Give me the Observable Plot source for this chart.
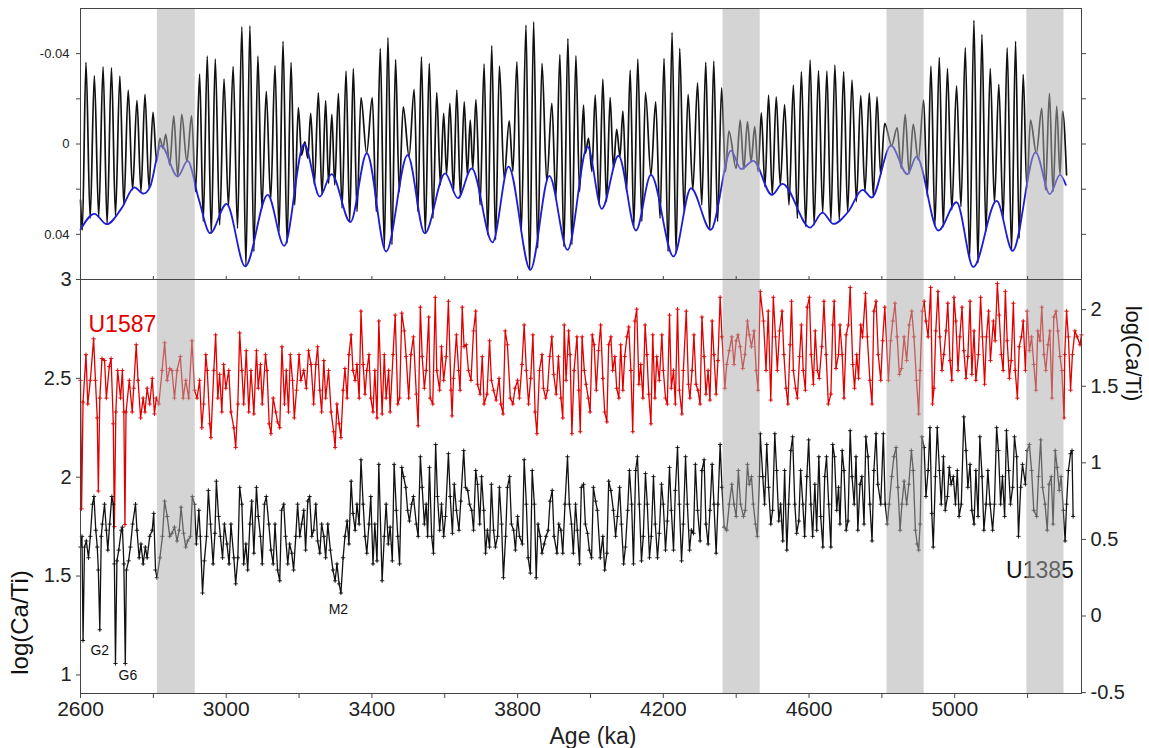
<!DOCTYPE html>
<html><head><meta charset="utf-8">
<script src="https://cdn.jsdelivr.net/npm/d3@7"></script>
<script src="https://cdn.jsdelivr.net/npm/@observablehq/plot@0.6"></script>
<style>
body{margin:0;background:#fff;}
#wrap{position:relative;width:1149px;height:748px;overflow:hidden;background:#fff;}
</style></head><body><div id="wrap"></div>
<script>
// ---------- data (age in ka) ----------
const bandStart = [2811, 4364, 4814, 5198];
const bandEnd   = [2915, 4466, 4916, 5300];
const xTickValues = [2600,2800,3000,3200,3400,3600,3800,4000,4200,4400,4600,4800,5000,5200];
const xTickLabels = [2600,3000,3400,3800,4200,4600,5000];
const topTicksLabeled = [-0.04, 0, 0.04];
const topTicksAll = [-0.04, -0.02, 0, 0.02, 0.04];
const leftTicks = [1, 1.5, 2, 2.5, 3];
const rightTicks = [-0.5, 0, 0.5, 1, 1.5, 2];
const labelText = ["U1587", "U1385"];
const labelAge = [2715, 5234];
const labelVal = [2.77, 1.53];
const labelColor = ["#e00000", "#111"];
const eventText = ["M2", "G2", "G6"];
const eventAge = [3308, 2653, 2730];
const eventVal = [1.33, 1.125, 0.996];

// precession (black) extrema: [age, value]
const precession = [[2600,0.0248],[2605,0.038],[2615,-0.0361],[2626.5,0.0329],[2638,-0.0302],[2650,0.0321],[2662,-0.0342],[2673,0.0355],[2685,-0.0337],[2696,0.0317],[2708,-0.0301],[2719,0.027],[2731,-0.0239],[2743,0.0203],[2755,-0.0193],[2766,0.0211],[2777,-0.022],[2788,0.0193],[2799,-0.014],[2809,0.0078],[2818,-0.0025],[2826,0.0019],[2834,-0.0043],[2845,0.0093],[2856,-0.0125],[2867,0.0144],[2878,-0.0131],[2892,0.0078],[2905,-0.0125],[2916,0.0211],[2927,-0.0309],[2937,0.0343],[2948,-0.0389],[2959,0.0395],[2970,-0.0376],[2982,0.0358],[2994,-0.0287],[3006,0.0277],[3019,-0.0343],[3031,0.0373],[3043,-0.0519],[3054,0.0542],[3065,-0.0523],[3076,0.0476],[3087,-0.0389],[3098,0.0284],[3110,-0.0233],[3122,0.0248],[3134,-0.0346],[3145,0.0388],[3156,-0.0455],[3167,0.0439],[3178,-0.0361],[3188,0.027],[3198,-0.0161],[3207,0.0049],[3216,-0.001],[3224,0.0063],[3232,-0.0136],[3242,0.0181],[3253,-0.0227],[3263,0.0225],[3273,-0.0192],[3281,0.0174],[3290,-0.0131],
[3298,0.0181],[3308,-0.0224],[3318,0.0284],[3329,-0.0323],[3339,0.0343],[3349,-0.0334],[3359,0.0299],[3370,-0.0205],[3385.5,0.0041],[3401,-0.0205],[3412,0.0299],[3423,-0.0423],[3434,0.0461],[3444,-0.0471],[3455,0.0446],[3465,-0.0374],[3475,0.0211],[3486,-0.0165],[3502,0.0056],[3516,-0.0242],[3526,0.0299],[3536,-0.0386],[3546.5,0.0396],[3557.5,-0.0357],[3567.5,0.0329],[3578,-0.0228],[3588,0.0181],[3597,-0.0136],[3605,0.0134],[3614,-0.018],[3624,0.0211],[3633,-0.0239],[3643,0.0233],[3653.5,-0.0187],[3662,0.0137],[3670,-0.0106],[3677,0.0111],[3685.5,-0.0197],[3697,0.027],[3708,-0.0354],[3718,0.0402],[3729,-0.0435],[3739.5,0.0424],[3750,-0.0345],[3763,0.0152],[3777,-0.0102],[3787,0.0122],[3798,-0.0364],[3810,0.0388],[3823,-0.0526],[3833,0.0557],[3844,-0.0541],[3855,0.0461],[3867,-0.0357],[3880,0.0166],[3894,-0.018],[3905,0.024],[3916,-0.0396],[3927,0.0454],[3938,-0.0467],[3949,0.0446],[3960,-0.039],[3970,0.0211],[3981,-0.0172],
[3986,0.0041],[3994.6,-0.0025],[4004,0.0122],[4013,-0.0217],[4024,0.027],[4034,-0.0287],[4044,0.0255],[4054,-0.0205],[4063,0.0108],[4072,-0.0065],[4081,0.0056],[4089,-0.0146],[4099,0.0211],[4109,-0.0327],[4119,0.0365],[4130,-0.0376],[4141,0.0343],[4151,-0.0228],[4166,0.0137],[4179,-0.0187],[4191,0.0329],[4202,-0.0379],[4213,0.0476],[4224,-0.0494],[4235,0.0483],[4245,-0.0423],[4257,0.0299],[4268,-0.022],[4281,0.0203],[4294,-0.0271],[4305.5,0.027],[4316.5,-0.0361],[4327.5,0.038],[4338.5,-0.0367],[4349,0.0343],[4360,-0.0249],[4370.5,0.0122],[4380,-0.0057],[4400,0.0108],[4411,-0.0106],[4421,0.0111],[4431,-0.0099],[4441,0.0078],[4451,-0.0077],[4460,0.0122],[4469,-0.0138],[4479,0.0189],[4489,-0.0217],[4499,0.0225],[4510,-0.0209],[4521,0.0181],[4533,-0.0175],[4545,0.027],[4557,-0.0261],[4568,0.0329],[4579,-0.032],[4591,0.0365],[4603,-0.0371],[4614,0.0358],[4626,-0.0324],[4637.5,0.0304],[4649,-0.0323],[4660,0.0343],[4671,-0.0349],
[4683,0.0336],[4695,-0.032],[4706,0.0302],[4718,-0.0283],[4730,0.0255],[4742,-0.0214],[4753.6,0.0211],[4765.5,-0.0227],[4776.5,0.0233],[4786.6,-0.0209],[4796.6,0.0137],[4807.6,-0.0091],[4826.8,0.0007],[4842,-0.0072],[4853,0.0108],[4864,-0.0131],[4875,0.013],[4886,-0.0087],[4900,0.0071],[4914.6,-0.0194],[4924.7,0.0233],[4934.7,-0.0345],[4945.7,0.0358],[4957.6,-0.0383],[4968.5,0.0365],[4980,-0.0334],[4992,0.0292],[5005,-0.0258],[5017,0.0277],[5029,-0.0426],[5040.8,0.0505],[5052.7,-0.0548],[5063.7,0.0527],[5074.6,-0.0485],[5085.6,0.0388],[5097.5,-0.0334],[5109,0.0262],[5121,-0.0264],[5133,0.0329],[5144,-0.0426],[5156,0.0473],[5167,-0.0455],[5177,0.0417],[5188,-0.0308],[5198,0.0196],[5208,-0.0106],[5224,0.0041],[5239,-0.0158],[5249,0.0203],[5260,-0.0224],[5270,0.0211],[5280,-0.0168],[5289,0.0137],[5296,-0.0146],[5307,0.0137]];

// eccentricity-like envelope (blue): [age, value]
const envelope = [[2600,0.038],[2638,0.0309],[2672,0.0355],[2713,0.0284],[2748,0.0192],[2773,0.022],[2791,0.019],[2821,0.0007],[2867,0.0144],[2894,0.0075],[2924,0.024],[2956,0.0395],[3001,0.0265],[3052,0.0542],[3114,0.0225],[3159,0.0451],[3214,0.0001],[3257,0.0233],[3289,0.0133],[3341,0.0346],[3386,0.0041],[3439,0.0476],[3498,0.0049],[3545,0.0396],[3601,0.013],[3636,0.024],[3674,0.0108],[3731,0.0436],[3775,0.01],[3835,0.0557],[3887,0.0141],[3937,0.0469],[3992,0.0012],[4031,0.0287],[4077,0.0052],[4125,0.0383],[4166,0.0137],[4228,0.0498],[4276,0.0196],[4330,0.038],[4386,0.0029],[4413,0.0111],[4447,0.0075],[4498,0.0225],[4527,0.0177],[4603,0.037],[4637,0.0304],[4667,0.0354],[4708,0.0299],[4747,0.0203],[4772,0.0237],[4825,0.0007],[4870,0.0134],[4895,0.0056],[4955,0.0383],[5005,0.0258],[5051,0.0545],[5115,0.0252],[5159,0.0473],[5222,0.0037],[5261,0.0222],[5289,0.0137],[5305,0.0181]];

// U1587 log(Ca/Ti) (left axis): [age, value]
const u1587 = [[2600,2.49],[2603,1.84],[2607,2.38],[2615,2.62],[2620,2.37],[2627,2.49],[2636,2.70],[2641,2.49],[2646,2.30],[2649,1.93],[2653,2.40],[2659,2.60],[2666,2.59],[2671,2.40],[2679,2.56],[2684,2.60],[2690,2.27],[2693,1.75],[2697,2.33],[2702,2.54],[2710,2.40],[2715,2.54],[2719,2.33],[2722,1.76],[2725,2.33],[2734,2.49],[2742,2.33],[2746,2.45],[2753,2.67],[2758,2.49],[2765,2.30],[2772,2.40],[2777,2.33],[2783,2.45],[2790,2.37],[2797,2.50],[2803,2.32],[2808,2.40],[2815,2.37],[2824,2.54],[2831,2.68],[2838,2.49],[2845,2.55],[2851,2.54],[2858,2.40],[2865,2.54],[2874,2.61],[2882,2.40],[2889,2.49],[2897,2.40],[2906,2.69],[2913,2.44],[2920,2.40],[2927,2.49],[2933,2.25],[2938,2.37],[2944,2.62],[2948,2.54],[2955,2.27],[2958,2.20],[2966,2.54],[2971,2.72],[2977,2.40],[2982,2.52],[2988,2.33],[2993,2.57],[2999,2.45],[3007,2.54],[3013,2.33],[3021,2.25],[3026,2.15],[3032,2.37],[3037,2.73],[3043,2.54],[3048,2.37],[3055,2.64],[3062,2.33],[3068,2.54],[3076,2.32],[3083,2.64],[3088,2.45],[3094,2.57],[3099,2.37],[3108,2.62],[3112,2.54],[3118,2.27],[3123,2.22],[3129,2.40],[3136,2.33],[3141,2.28],[3147,2.25],[3153,2.66],[3160,2.37],[3165,2.54],[3171,2.33],[3176,2.62],[3182,2.49],[3187,2.30],[3193,2.44],[3200,2.62],[3205,2.49],[3213,2.54],[3220,2.45],[3226,2.64],[3233,2.57],[3240,2.37],[3246,2.57],[3251,2.66],[3257,2.44],[3262,2.33],[3268,2.59],[3273,2.40],[3281,2.54],[3288,2.33],[3295,2.23],[3299,2.15],[3304,2.37],[3310,2.27],[3315,2.20],[3321,2.44],[3326,2.55],[3332,2.40],[3337,2.62],[3343,2.72],[3348,2.54],[3354,2.49],[3359,2.57],[3365,2.40],[3370,2.84],[3376,2.57],[3381,2.42],[3386,2.54],[3392,2.62],[3397,2.40],[3403,2.33],[3408,2.54],[3414,2.30],[3419,2.79],
[3428,2.32],[3434,2.62],[3439,2.40],[3446,2.54],[3450,2.33],[3458,2.62],[3464,2.82],[3471,2.37],[3476,2.40],[3482,2.83],[3489,2.74],[3494,2.61],[3501,2.40],[3507,2.62],[3514,2.71],[3522,2.42],[3527,2.26],[3533,2.86],[3538,2.61],[3544,2.45],[3549,2.54],[3556,2.81],[3560,2.40],[3567,2.37],[3574,2.91],[3578,2.54],[3586,2.44],[3591,2.66],[3597,2.49],[3604,2.61],[3610,2.89],[3617,2.44],[3620,2.31],[3624,2.50],[3632,2.72],[3638,2.54],[3642,2.44],[3648,2.86],[3653,2.66],[3659,2.67],[3665,2.54],[3672,2.49],[3679,2.74],[3685,2.84],[3690,2.47],[3697,2.42],[3703,2.61],[3708,2.37],[3716,2.42],[3723,2.69],[3728,2.49],[3734,2.44],[3741,2.39],[3749,2.50],[3754,2.37],[3760,2.32],[3766,2.74],[3772,2.67],[3780,2.40],[3787,2.37],[3793,2.45],[3800,2.49],[3805,2.40],[3812,2.57],[3818,2.77],[3824,2.54],[3830,2.37],[3836,2.50],[3842,2.72],[3848,2.33],[3853,2.22],[3860,2.54],[3867,2.62],[3871,2.45],[3877,2.40],[3882,2.44],[3888,2.61],[3894,2.71],[3899,2.52],[3906,2.42],[3912,2.61],[3919,2.40],[3924,2.30],[3928,2.77],[3933,2.49],[3940,2.74],[3944,2.62],[3949,2.22],[3955,2.54],[3963,2.71],[3968,2.44],[3972,2.23],[3977,2.71],[3983,2.54],[3988,2.47],[3994,2.40],[3999,2.33],[4005,2.72],[4010,2.67],[4016,2.44],[4022,2.64],[4028,2.77],[4034,2.50],[4039,2.33],[4045,2.28],[4050,2.67],[4056,2.71],[4061,2.54],[4067,2.61],[4072,2.45],[4078,2.40],[4083,2.67],[4089,2.44],[4094,2.61],[4100,2.71],[4105,2.76],[4111,2.54],[4116,2.23],[4122,2.79],[4127,2.85],[4133,2.47],[4138,2.57],[4144,2.40],[4150,2.77],[4155,2.62],[4160,2.42],[4166,2.27],[4171,2.72],[4177,2.40],[4182,2.61],[4189,2.49],[4196,2.72],[4200,2.54],[4206,2.40],[4211,2.37],[4217,2.82],[4222,2.45],[4228,2.54],[4233,2.37],[4239,2.85],[4244,2.44],[4251,2.32],[4255,2.54],[4263,2.84],[4269,2.47],[4273,2.40],[4279,2.54],[4284,2.72],[4290,2.47],[4295,2.44],[4301,2.37],[4306,2.81],[4312,2.61],[4317,2.42],[4323,2.54],[4328,2.39],[4334,2.79],[4339,2.62],[4345,2.42],[4350,2.59],[4356,2.91],[4361,2.71],
[4369,2.45],[4374,2.57],[4381,2.64],[4388,2.71],[4394,2.57],[4400,2.69],[4405,2.72],[4411,2.66],[4418,2.55],[4424,2.62],[4431,2.79],[4436,2.72],[4442,2.66],[4449,2.74],[4455,2.54],[4460,2.44],[4466,2.94],
[4475,2.79],[4482,2.54],[4488,2.84],[4495,2.39],[4502,2.91],[4508,2.71],[4513,2.54],[4519,2.74],[4526,2.84],[4531,2.62],[4537,2.45],[4542,2.37],[4548,2.67],[4552,2.89],[4557,2.54],[4563,2.45],[4568,2.40],[4574,2.61],[4579,2.77],[4584,2.54],[4590,2.44],[4595,2.86],[4601,2.91],[4606,2.62],[4612,2.47],[4617,2.74],[4623,2.54],[4628,2.50],[4635,2.66],[4641,2.89],[4647,2.62],[4653,2.37],[4660,2.42],[4665,2.77],[4669,2.89],[4674,2.55],[4681,2.62],[4685,2.77],[4691,2.62],[4696,2.40],[4702,2.72],[4708,2.77],[4713,2.96],[4720,2.57],[4725,2.45],[4731,2.62],[4736,2.50],[4742,2.77],[4747,2.71],[4755,2.93],[4760,2.71],[4767,2.49],[4773,2.37],[4778,2.84],[4784,2.89],[4790,2.62],[4797,2.49],[4802,2.69],[4808,2.86],
[4818,2.49],[4824,2.69],[4830,2.79],[4836,2.88],[4842,2.71],[4848,2.52],[4854,2.55],[4861,2.71],[4868,2.59],[4875,2.77],[4882,2.84],[4888,2.71],[4895,2.49],[4901,2.32],[4905,2.54],[4911,2.84],[4916,2.89],[4921,2.79],[4927,2.71],[4934,2.96],[4939,2.37],[4943,2.45],[4948,2.74],[4954,2.94],[4959,2.71],[4965,2.54],[4970,2.62],[4976,2.74],[4981,2.88],[4987,2.59],[4992,2.49],[4998,2.91],[5003,2.79],[5009,2.54],[5014,2.71],[5020,2.86],[5025,2.64],[5031,2.50],[5036,2.61],[5042,2.89],[5047,2.52],[5053,2.74],[5058,2.49],[5065,2.62],[5071,2.91],[5076,2.71],[5082,2.47],[5087,2.71],[5093,2.84],[5098,2.59],[5106,2.79],[5111,2.69],[5117,2.98],[5122,2.82],[5128,2.62],[5133,2.54],[5139,2.94],[5144,2.69],[5150,2.50],[5155,2.59],[5161,2.88],[5166,2.54],[5172,2.40],[5177,2.66],[5183,2.71],[5188,2.79],[5194,2.54],
[5199,2.84],[5205,2.64],[5211,2.71],[5217,2.57],[5223,2.44],[5228,2.74],[5234,2.69],[5239,2.86],[5245,2.62],[5250,2.54],[5256,2.67],[5261,2.74],[5267,2.40],[5272,2.81],[5278,2.84],[5283,2.74],[5289,2.61],[5294,2.54],[5300,2.30],[5302,2.62],[5307,2.84],[5312,2.71],[5318,2.44],[5323,2.62],[5330,2.74],[5336,2.71],[5344,2.67],[5348,2.72]];

// U1385 log(Ca/Ti) (right axis): [age, value]
const u1385 = [[2600,0.45],[2604,0.52],[2607,-0.16],[2611,0.45],[2616,0.49],[2622,0.38],[2627,0.52],[2633,0.73],[2637,0.78],[2642,0.56],[2646,0.45],[2649,0.30],[2653,-0.09],[2657,0.52],[2660,0.60],[2666,0.73],[2671,0.56],[2675,0.43],[2680,0.60],[2686,0.78],[2690,0.73],[2693,0.34],[2696,-0.31],[2700,0.36],[2705,0.43],[2712,0.56],[2715,0.58],[2719,0.34],[2723,-0.31],[2726,0.30],[2732,0.36],[2737,0.45],[2743,0.60],[2751,0.73],[2755,0.56],[2761,0.38],[2766,0.47],[2772,0.34],[2778,0.45],[2783,0.38],[2790,0.52],[2797,0.56],[2801,0.67],[2806,0.30],[2810,0.25],[2818,0.38],[2825,0.52],[2831,0.75],[2838,0.65],[2845,0.52],[2851,0.54],[2858,0.58],[2865,0.49],[2871,0.56],[2876,0.71],[2883,0.54],[2889,0.45],[2894,0.49],[2902,0.52],[2907,0.78],[2913,0.73],[2918,0.47],[2925,0.69],[2929,0.52],[2935,0.15],[2940,0.36],[2946,0.52],[2951,0.82],[2957,0.60],[2964,0.34],[2969,0.54],[2973,0.88],[2979,0.65],[2984,0.52],[2990,0.38],[2995,0.60],[3002,0.47],[3008,0.34],[3013,0.60],[3021,0.38],[3026,0.21],[3032,0.38],[3037,0.84],[3043,0.73],[3048,0.34],[3054,0.47],[3059,0.30],[3065,0.60],[3070,0.75],[3076,0.41],[3083,0.84],[3088,0.65],[3094,0.52],[3099,0.34],[3105,0.73],[3110,0.78],[3117,0.60],[3123,0.43],[3129,0.34],[3134,0.60],[3141,0.30],[3147,0.23],[3152,0.69],[3158,0.73],[3163,0.52],[3169,0.34],[3174,0.47],[3180,0.41],[3185,0.30],[3191,0.52],[3196,0.73],[3202,0.52],[3207,0.60],[3213,0.69],[3218,0.43],[3224,0.75],[3229,0.78],[3235,0.52],[3240,0.56],[3246,0.73],[3251,0.49],[3257,0.41],[3262,0.60],[3268,0.52],[3273,0.38],[3279,0.60],[3286,0.43],[3293,0.30],[3299,0.23],[3304,0.34],[3310,0.21],[3315,0.15],[3321,0.38],[3326,0.52],[3332,0.62],[3337,0.47],[3343,0.88],[3348,0.67],[3354,0.56],[3359,0.73],[3365,0.60],[3370,1.02],[3376,0.73],[3381,0.52],[3386,0.41],[3392,0.60],[3397,0.78],[3403,0.34],[3408,0.60],[3414,0.36],[3419,0.99],
[3428,0.23],[3434,0.52],[3439,0.73],[3445,0.47],[3450,0.58],[3456,0.36],[3461,0.99],[3467,0.69],[3471,0.52],[3476,0.34],[3482,0.97],[3487,0.91],[3493,0.84],[3498,0.69],[3503,0.62],[3509,0.73],[3514,0.78],[3522,0.60],[3527,0.52],[3533,1.04],[3538,0.84],[3544,0.60],[3549,0.73],[3553,0.52],[3558,0.97],[3564,0.52],[3569,0.41],[3575,1.12],[3580,0.78],[3586,0.56],[3591,0.73],[3597,0.52],[3602,0.65],[3610,1.06],[3615,0.78],[3621,0.54],[3626,0.86],[3632,0.69],[3639,0.56],[3644,0.75],[3652,1.08],[3657,0.84],[3663,0.82],[3668,0.73],[3674,0.69],[3679,0.56],[3685,0.95],[3690,0.86],[3696,0.60],[3701,0.91],[3707,0.69],[3712,0.41],[3717,0.56],[3723,0.45],[3728,0.86],[3734,0.56],[3739,0.45],[3745,0.52],[3750,0.84],[3756,0.60],[3761,0.25],[3767,0.52],[3772,0.84],[3778,0.91],[3783,0.60],[3789,0.56],[3794,0.43],[3800,0.65],[3805,0.52],[3813,0.47],[3818,1.02],[3824,0.73],[3829,0.38],[3835,0.28],[3840,0.95],[3846,0.73],[3851,0.25],[3856,0.60],[3862,0.52],[3867,0.41],[3873,0.47],[3878,0.52],[3884,0.56],[3889,0.75],[3895,0.82],[3900,0.52],[3908,0.41],[3913,0.60],[3919,0.56],[3924,0.41],[3930,0.73],[3937,1.04],[3942,0.73],[3948,0.60],[3953,0.41],[3959,0.73],[3964,0.56],[3970,0.34],[3975,0.84],[3981,0.86],[3986,0.60],[3992,0.54],[3997,0.43],[4003,0.38],[4008,0.84],[4014,0.75],[4019,0.69],[4027,0.38],[4034,0.52],[4039,0.30],[4045,0.41],[4050,0.88],[4056,0.82],[4063,0.69],[4069,0.52],[4074,0.65],[4080,0.84],[4085,0.60],[4091,0.34],[4096,0.45],[4102,0.69],[4107,0.95],[4113,0.73],[4118,0.34],[4124,0.95],[4129,1.04],[4134,0.73],[4140,0.36],[4145,0.52],[4151,0.93],[4156,0.73],[4162,0.38],[4167,0.52],[4173,0.91],[4178,0.60],[4184,0.38],[4189,0.54],[4195,0.86],[4200,0.73],[4206,0.43],[4211,0.62],[4217,0.97],[4222,0.69],[4228,0.43],[4233,0.82],[4239,1.10],[4244,0.73],[4250,0.36],[4255,0.60],[4261,1.04],[4266,0.73],[4272,0.43],[4277,0.56],[4283,0.54],[4288,0.99],[4294,0.69],[4301,0.49],[4306,0.95],[4312,1.02],[4317,0.60],[4323,0.47],[4328,0.69],[4334,0.99],[4339,0.73],[4345,0.41],[4350,0.73],[4356,1.12],[4361,0.84],
[4367,0.58],[4374,0.56],[4381,0.73],[4388,0.86],[4394,0.73],[4400,0.65],[4406,0.95],[4412,0.73],[4420,0.65],[4425,0.69],[4431,0.99],[4436,0.86],[4442,0.91],[4447,0.73],[4453,0.60],[4458,0.52],[4464,0.91],
[4466,1.19],[4473,0.91],[4478,0.73],[4484,1.12],[4489,0.84],[4495,0.60],[4500,0.69],[4506,1.19],[4511,0.95],[4517,0.62],[4522,0.73],[4528,0.49],[4533,0.95],[4539,0.43],[4544,0.73],[4550,1.08],[4555,1.17],[4561,0.73],[4566,0.54],[4572,0.62],[4577,0.95],[4583,0.73],[4588,0.52],[4594,0.91],[4599,1.15],[4605,0.73],[4610,0.52],[4616,0.86],[4621,0.56],[4627,1.04],[4632,0.65],[4638,0.45],[4643,0.91],[4648,1.04],[4654,0.73],[4660,0.45],[4665,1.12],[4670,1.04],[4676,0.69],[4681,0.84],[4685,0.60],[4691,1.08],[4696,0.95],[4702,0.56],[4707,0.62],[4713,1.21],[4718,0.91],[4724,0.73],[4729,1.04],[4734,0.56],[4740,0.86],[4745,0.91],[4751,0.60],[4756,1.17],[4762,1.04],[4767,0.73],[4773,0.49],[4778,0.95],[4784,1.19],[4789,0.86],[4797,0.73],[4804,1.19],[4809,0.73],
[4815,0.60],[4820,0.73],[4827,0.91],[4833,1.04],[4839,1.10],[4844,0.84],[4850,0.56],[4855,0.73],[4861,0.88],[4868,0.73],[4874,0.86],[4881,1.08],[4886,0.95],[4892,0.56],[4897,0.47],[4901,0.43],[4905,0.60],[4910,1.17],[4916,1.10],
[4921,0.78],[4927,0.95],[4932,1.23],[4937,0.67],[4941,0.45],[4947,0.91],[4952,1.23],[4958,0.95],[4963,0.73],[4969,1.04],[4974,0.69],[4980,0.78],[4985,0.97],[4990,0.86],[4996,0.91],[5002,0.73],[5007,0.95],[5012,0.65],[5018,0.73],[5025,1.30],[5031,1.08],[5036,0.84],[5042,0.99],[5047,0.69],[5053,0.60],[5058,0.95],[5064,0.65],[5069,1.17],[5075,0.91],[5080,0.56],[5086,0.73],[5091,0.95],[5097,0.73],[5104,0.56],[5109,0.73],[5115,1.23],[5120,1.08],[5126,0.73],[5131,0.91],[5137,0.65],[5142,1.21],[5148,0.95],[5153,0.73],[5159,0.84],[5164,1.17],[5170,1.04],[5175,0.52],[5181,0.84],[5186,0.99],[5194,0.86],
[5199,1.08],[5205,1.12],[5211,0.95],[5217,0.69],[5225,0.65],[5230,0.91],[5236,1.15],[5241,0.84],[5248,0.73],[5254,0.56],[5259,0.86],[5265,0.91],[5270,0.60],[5276,1.08],[5281,0.97],[5287,0.82],[5292,0.91],[5298,0.69],[5303,0.49],[5307,0.73],[5312,0.95],[5318,1.06],[5322,1.08],[5325,0.65]];

// ---------- derived tables ----------
const xDomain = [2600, 5348];
const bands = bandStart.map((s, i) => ({s, e: bandEnd[i]}));
const prec = precession.map(([age, v]) => ({age, v}));
const env = envelope.map(([age, v]) => ({age, v}));
// right axis (U1385) expressed in left-axis (U1587) units
const rightToLeft = r => 1.298 + 0.7747 * r;
const leftToRight = l => (l - 1.298) / 0.7747;
const red = u1587.map(([age, v]) => ({age, v}));
const blk = u1385.map(([age, v]) => ({age, v: rightToLeft(v)}));
const labels = labelText.map((t, i) => ({t, age: labelAge[i], v: labelVal[i], c: labelColor[i]}));
const events = eventText.map((t, i) => ({t, age: eventAge[i], v: eventVal[i]}));

const FONT = "'Liberation Sans', Arial, Helvetica, sans-serif";
const AX = "#444";
const BANDFILL = "#adadad", BANDOP = 0.52;

const wrap = document.getElementById("wrap");

const topPlot = Plot.plot({
  width: 1149, height: 279,
  marginLeft: 80, marginRight: 68, marginTop: 8, marginBottom: 0,
  style: {position: "absolute", left: "0px", top: "0px", background: "transparent", overflow: "visible", fontFamily: FONT, color: "#222"},
  x: {domain: xDomain, axis: null},
  y: {domain: [-0.06, 0.06], reverse: true, axis: null},
  marks: [
    Plot.line(prec, {x: "age", y: "v", stroke: "#111", strokeWidth: 1.7, curve: "monotone-x"}),
    Plot.line(env, {x: "age", y: "v", stroke: "#1d1dd6", strokeWidth: 1.8, curve: "monotone-x"}),
    Plot.rect(bands, {x1: "s", x2: "e", fill: BANDFILL, fillOpacity: BANDOP}),
    Plot.axisY({anchor: "left", ticks: topTicksAll, tickSize: 4, tickPadding: 7, fontSize: 13, stroke: AX, label: null,
      tickFormat: d => topTicksLabeled.includes(d) ? (d === 0 ? "0" : String(d)) : ""}),
    Plot.axisY({anchor: "right", ticks: topTicksAll, tickSize: 4, stroke: AX, label: null, tickFormat: () => ""}),
    Plot.frame({stroke: AX})
  ]
});
wrap.appendChild(topPlot);

const bottomPlot = Plot.plot({
  width: 1149, height: 488,
  marginLeft: 80, marginRight: 68, marginTop: 19, marginBottom: 55,
  style: {position: "absolute", left: "0px", top: "260px", background: "transparent", overflow: "visible", fontFamily: FONT, color: "#222"},
  x: {domain: xDomain, axis: null},
  y: {domain: [0.906, 3], axis: null},
  marks: [
    Plot.line(red, {x: "age", y: "v", stroke: "#e00000", strokeWidth: 1.3}),
    Plot.dot(red, {x: "age", y: "v", symbol: "plus", r: 1.5, stroke: "#e00000", strokeWidth: 0.9}),
    Plot.line(blk, {x: "age", y: "v", stroke: "#111", strokeWidth: 1.3}),
    Plot.dot(blk, {x: "age", y: "v", symbol: "plus", r: 1.5, stroke: "#111", strokeWidth: 0.9}),
    Plot.text(labels, {x: "age", y: "v", text: "t", fill: "c", fontSize: 23, textAnchor: "middle"}),
    Plot.text(events, {x: "age", y: "v", text: "t", fill: "#111", fontSize: 14, textAnchor: "middle"}),
    Plot.rect(bands, {x1: "s", x2: "e", fill: BANDFILL, fillOpacity: BANDOP}),
    Plot.axisX({anchor: "bottom", ticks: xTickValues, tickSize: 5, tickPadding: 3, fontSize: 21, stroke: AX, label: null,
      tickFormat: d => xTickLabels.includes(d) ? String(d) : ""}),
    Plot.axisX({anchor: "top", ticks: xTickValues, tickSize: 4, stroke: AX, label: null, tickFormat: () => ""}),
    Plot.axisY({anchor: "left", ticks: leftTicks, tickSize: 4, tickPadding: 5, fontSize: 20, stroke: AX, label: null,
      tickFormat: d => String(d)}),
    Plot.axisY({anchor: "right", ticks: rightTicks.map(rightToLeft), tickSize: 4, tickPadding: 5, fontSize: 20, stroke: AX, label: null,
      tickFormat: d => String(Math.round(leftToRight(d) * 2) / 2)}),
    Plot.text(["Age (ka)"], {frameAnchor: "bottom", dx: 12, dy: 43, lineAnchor: "middle", textAnchor: "middle", fontSize: 23, fill: "#222"}),
    Plot.text(["log(Ca/Ti)"], {frameAnchor: "bottom-left", dx: -60, dy: -71, rotate: -90, textAnchor: "middle", lineAnchor: "middle", fontSize: 24, fill: "#111"}),
    Plot.text(["log(Ca/Ti)"], {frameAnchor: "top-right", dx: 52, dy: 74, rotate: 90, textAnchor: "middle", lineAnchor: "middle", fontSize: 22, fill: "#111"}),
    Plot.frame({stroke: AX})
  ]
});
wrap.appendChild(bottomPlot);
</script></body></html>
